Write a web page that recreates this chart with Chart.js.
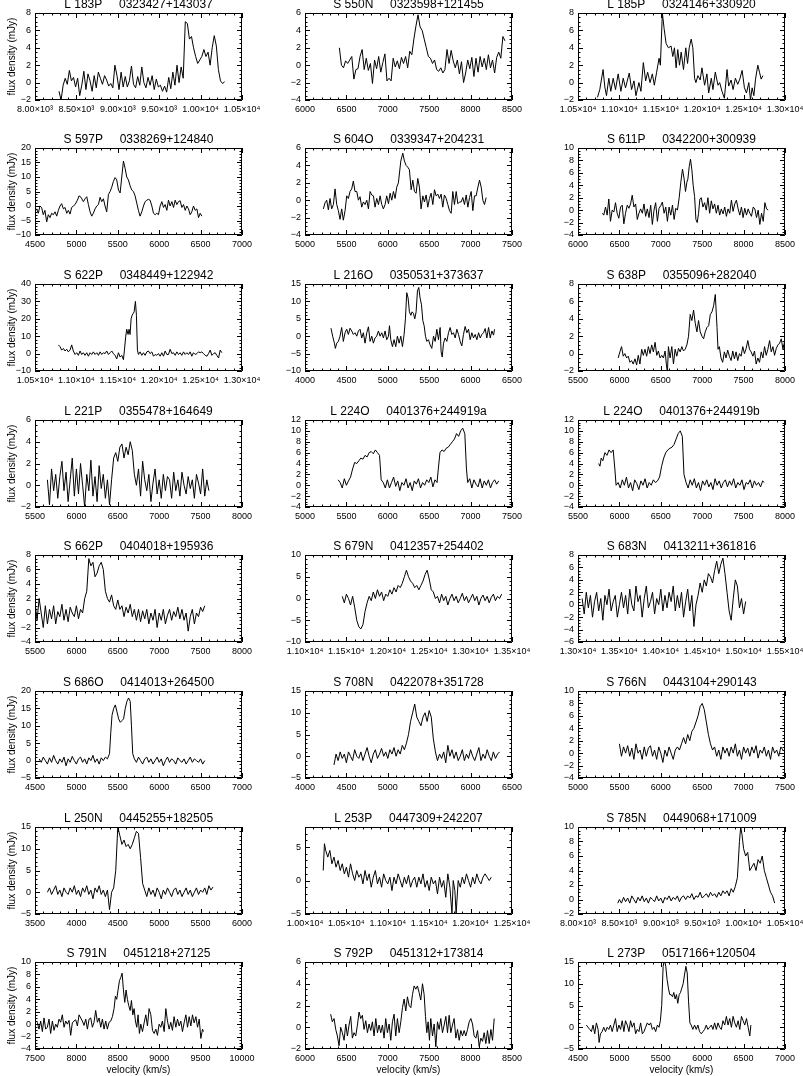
<!DOCTYPE html>
<html><head><meta charset="utf-8">
<script src="https://cdn.jsdelivr.net/npm/chart.js@4.4.1/dist/chart.umd.min.js"></script>
<style>
html,body{margin:0;padding:0;background:#fff;}
body{width:803px;height:1076px;overflow:hidden;position:relative;}
canvas{position:absolute;}
</style></head><body>
<script>
// ---------------- DATA ----------------
const titles = [
 "L 183P     0323427+143037","S 550N     0323598+121455","L 185P     0324146+330920",
 "S 597P     0338269+124840","S 604O     0339347+204231","S 611P     0342200+300939",
 "S 622P     0348449+122942","L 216O     0350531+373637","S 638P     0355096+282040",
 "L 221P     0355478+164649","L 224O     0401376+244919a","L 224O     0401376+244919b",
 "S 662P     0404018+195936","S 679N     0412357+254402","S 683N     0413211+361816",
 "S 686O     0414013+264500","S 708N     0422078+351728","S 766N     0443104+290143",
 "L 250N     0445255+182505","L 253P     0447309+242207","S 785N     0449068+171009",
 "S 791N     0451218+27125","S 792P     0451312+173814","L 273P     0517166+120504"
];
const xTicks = [
 [8000,8500,9000,9500,10000,10500],[6000,6500,7000,7500,8000,8500],[10500,11000,11500,12000,12500,13000],
 [4500,5000,5500,6000,6500,7000],[5000,5500,6000,6500,7000,7500],[6000,6500,7000,7500,8000,8500],
 [10500,11000,11500,12000,12500,13000],[4000,4500,5000,5500,6000,6500],[5500,6000,6500,7000,7500,8000],
 [5500,6000,6500,7000,7500,8000],[5000,5500,6000,6500,7000,7500],[5500,6000,6500,7000,7500,8000],
 [5500,6000,6500,7000,7500,8000],[11000,11500,12000,12500,13000,13500],[13000,13500,14000,14500,15000,15500],
 [4500,5000,5500,6000,6500,7000],[4000,4500,5000,5500,6000,6500],[5000,5500,6000,6500,7000,7500],
 [3500,4000,4500,5000,5500,6000],[10000,10500,11000,11500,12000,12500],[8000,8500,9000,9500,10000,10500],
 [7500,8000,8500,9000,9500,10000],[6000,6500,7000,7500,8000,8500],[4500,5000,5500,6000,6500,7000]
];
const sciLabels = {
 0:["8.00×10³","8.50×10³","9.00×10³","9.50×10³","1.00×10⁴","1.05×10⁴"],
 2:["1.05×10⁴","1.10×10⁴","1.15×10⁴","1.20×10⁴","1.25×10⁴","1.30×10⁴"],
 6:["1.05×10⁴","1.10×10⁴","1.15×10⁴","1.20×10⁴","1.25×10⁴","1.30×10⁴"],
 13:["1.10×10⁴","1.15×10⁴","1.20×10⁴","1.25×10⁴","1.30×10⁴","1.35×10⁴"],
 14:["1.30×10⁴","1.35×10⁴","1.40×10⁴","1.45×10⁴","1.50×10⁴","1.55×10⁴"],
 19:["1.00×10⁴","1.05×10⁴","1.10×10⁴","1.15×10⁴","1.20×10⁴","1.25×10⁴"],
 20:["8.00×10³","8.50×10³","9.00×10³","9.50×10³","1.00×10⁴","1.05×10⁴"]
};
const yTicks = [
 [-2,0,2,4,6,8],[-4,-2,0,2,4,6],[-2,0,2,4,6,8],
 [-10,-5,0,5,10,15,20],[-4,-2,0,2,4,6],[-4,-2,0,2,4,6,8,10],
 [-10,0,10,20,30,40],[-10,-5,0,5,10,15],[-2,0,2,4,6,8],
 [-2,0,2,4,6],[-4,-2,0,2,4,6,8,10,12],[-4,-2,0,2,4,6,8,10,12],
 [-4,-2,0,2,4,6,8],[-10,-5,0,5,10],[-6,-4,-2,0,2,4,6,8],
 [-5,0,5,10,15,20],[-5,0,5,10,15],[-4,-2,0,2,4,6,8,10],
 [-5,0,5,10,15],[-5,0,5],[-2,0,2,4,6,8,10],
 [-4,-2,0,2,4,6,8,10],[-2,0,2,4,6],[-5,0,5,10,15]
];
const yMax = [8,6,8,20,6,10,40,15,8,6,12,12,8,10,8,20,15,10,15,8,10,10,6,15];

const spec01 = [[8290,-1],[8315,-2],[8340,-0.3],[8365,0.5],[8390,-0.2],[8415,1.4],[8440,0.2],[8465,0.6],[8490,-0.5],[8515,0.5],[8540,-1.5],[8565,-0.3],[8590,1.3],[8615,-0.8],[8640,1.0],[8665,0.2],[8690,-1],[8715,0.8],[8740,-0.6],[8765,1.2],[8790,0.5],[8815,-0.2],[8840,0.8],[8865,0.3],[8890,-0.4],[8915,-0.1],[8940,-0.6],[8965,2.0],[8990,0.8],[9015,-0.8],[9040,1.2],[9065,-0.5],[9090,0.7],[9115,-0.5],[9140,0.2],[9165,1.9],[9190,-0.2],[9215,-0.6],[9240,0.7],[9265,-0.3],[9290,1.8],[9315,0],[9340,-0.6],[9365,0.6],[9390,-0.3],[9415,0.8],[9440,-0.8],[9465,0.4],[9490,-0.5],[9515,-0.3],[9540,-1.0],[9565,-0.4],[9590,-1.1],[9615,0.6],[9640,-0.7],[9665,1.2],[9690,-0.3],[9715,2.0],[9740,0],[9765,1.8],[9790,0.5],[9815,7.0],[9840,6.8],[9865,5.0],[9890,5.3],[9915,4.0],[9940,3.0],[9965,2.2],[9990,2.6],[10015,3.0],[10040,3.8],[10065,3.0],[10090,3.5],[10115,2.0],[10140,4.0],[10165,5.4],[10190,4.2],[10215,1.5],[10240,0.2],[10265,-0.1],[10290,0.1]];
const spec02 = [[6415,2.0],[6440,0],[6465,-0.3],[6490,0.5],[6515,0.2],[6540,0.6],[6565,1.0],[6590,-1.6],[6615,-0.5],[6640,-0.4],[6665,1.0],[6690,1.8],[6715,-0.5],[6740,0.8],[6765,-0.6],[6790,0.2],[6815,-2.1],[6840,0.6],[6865,-0.4],[6890,1.0],[6915,-0.8],[6940,0.3],[6965,1.3],[6990,-1.8],[7015,-1.5],[7040,-1.8],[7065,0.8],[7090,-0.2],[7115,0.5],[7140,-0.4],[7165,0.9],[7190,0.2],[7215,1.0],[7240,-0.3],[7265,1.6],[7290,1.2],[7315,3.0],[7340,4.5],[7365,5.8],[7390,4.4],[7415,4.0],[7440,3.0],[7465,2.0],[7490,1.0],[7515,0.8],[7540,0.2],[7565,0.6],[7590,-0.5],[7615,-0.7],[7640,-0.3],[7665,-0.9],[7690,-0.5],[7715,1.8],[7740,0.2],[7765,1.7],[7790,0.5],[7815,-0.3],[7840,0.6],[7865,-1.0],[7890,0.4],[7915,-2.0],[7940,-0.9],[7965,0.6],[7990,-0.4],[8015,0.9],[8040,-1.3],[8065,0.8],[8090,-0.8],[8115,1.0],[8140,-0.2],[8165,0.8],[8190,-0.5],[8215,1.2],[8240,-0.3],[8265,0.6],[8290,-0.9],[8315,0.9],[8340,1.5],[8365,0.8],[8390,3.3],[8415,2.8]];
const spec03 = [[10735,-1.7],[10763,-0.8],[10803,1.5],[10824,-0.5],[10844,-1.5],[10872,0.5],[10896,-1.0],[10925,0.5],[10953,-0.8],[10985,1.0],[11018,-1.0],[11046,0.5],[11074,-0.6],[11119,1.1],[11147,-0.8],[11176,0.2],[11200,-1.5],[11236,0],[11260,-1.0],[11289,2.3],[11317,0.2],[11341,1.2],[11370,0],[11398,1.0],[11422,-0.3],[11450,1.2],[11479,2.8],[11495,2.0],[11519,8.0],[11540,6.2],[11564,4.5],[11592,4.0],[11624,4.2],[11645,3.0],[11665,4.0],[11685,1.7],[11705,3.8],[11726,2.0],[11746,3.5],[11774,1.5],[11802,4.0],[11823,2.2],[11843,4.0],[11867,5.0],[11887,4.0],[11908,0.5],[11924,0],[11948,0.8],[11976,0.3],[11997,1.7],[12029,-0.3],[12057,1.0],[12078,-1.2],[12110,0.5],[12130,-0.8],[12158,1.2],[12191,-0.3],[12211,0],[12239,-1.0],[12268,-1.8],[12300,1.5],[12320,-0.4],[12349,0.3],[12373,-0.8],[12401,0.5],[12429,-0.2],[12454,0.4],[12482,1.4],[12510,-0.6],[12535,-1.2],[12563,0],[12583,-2.0],[12603,-0.6],[12624,-1.5],[12644,0.4],[12672,2.0],[12692,1.2],[12712,0.4],[12733,0.8]];
const spec04 = [[4520,-1],[4540,-2.5],[4560,0],[4580,-0.5],[4600,-3],[4620,-1.5],[4641,-5.5],[4661,-3],[4681,-4],[4701,-2.5],[4722,-3],[4742,-2],[4762,-3.5],[4782,-1.5],[4802,0],[4822,0.8],[4843,-1],[4863,-0.5],[4883,-2.5],[4903,-1.5],[4923,-2.8],[4943,-0.5],[4963,0],[4984,0.5],[5012,2],[5032,3.5],[5056,3],[5084,1.5],[5105,2.5],[5125,3.2],[5145,0.5],[5165,-2],[5185,-3.5],[5205,-2.5],[5225,-1],[5246,0],[5266,0.5],[5286,3],[5306,1.5],[5326,2.5],[5346,0],[5366,-2],[5387,4],[5407,5],[5427,6.5],[5447,8.5],[5467,9.8],[5487,9],[5508,5.5],[5528,4.5],[5548,10],[5568,15.5],[5588,13],[5608,10],[5628,9],[5648,7],[5669,5.5],[5689,5],[5709,3.5],[5729,1],[5749,-1.5],[5769,-3.5],[5790,-2],[5810,0],[5830,1.5],[5850,2],[5870,2.3],[5890,2],[5911,0],[5931,-2.5],[5951,-3],[5971,-2.5],[5991,-3],[6011,0],[6032,1.5],[6052,-0.5],[6072,0.5],[6092,-1.5],[6112,2],[6132,0],[6153,1.5],[6173,-0.5],[6193,2],[6213,0.5],[6233,1.5],[6253,1.8],[6274,-0.5],[6294,0.5],[6314,-1.5],[6334,0],[6354,-1],[6374,-3],[6394,-2],[6414,0],[6435,-1.5],[6455,-1],[6475,-4],[6495,-2.5],[6515,-3.5]];
const spec05 = [[5222,-1],[5242,-0.3],[5262,0],[5282,-1.1],[5302,0.2],[5322,-1],[5343,-0.5],[5363,1.3],[5383,-0.5],[5403,-1.2],[5423,-2.2],[5443,-1],[5463,-2.3],[5484,-1.2],[5504,0.5],[5524,0.2],[5544,1],[5564,1.3],[5584,2.2],[5604,1],[5625,1],[5645,0],[5665,0.4],[5685,-0.8],[5705,-0.2],[5725,-0.5],[5746,0],[5766,-1],[5786,1],[5806,0.6],[5826,0.5],[5846,-0.8],[5866,0.2],[5887,-0.5],[5907,0.5],[5927,-0.5],[5947,-1],[5967,-0.5],[5987,0.5],[6008,-0.4],[6028,0.8],[6048,0],[6068,1],[6088,0.2],[6108,1.5],[6128,2],[6157,4.5],[6181,5.4],[6201,4.5],[6221,4],[6241,3.8],[6261,3.5],[6282,1.2],[6302,2.3],[6322,1.0],[6342,0.8],[6362,2.5],[6382,1.5],[6402,-1.0],[6423,0.5],[6443,-0.2],[6463,0.6],[6483,-0.8],[6503,0.2],[6523,0.8],[6544,-0.5],[6564,1.2],[6584,0.5],[6604,0.7],[6624,0.2],[6644,0.7],[6664,-0.8],[6684,0.6],[6705,0.2],[6725,-0.5],[6745,-1.2],[6765,-1.5],[6785,1.0],[6805,-0.5],[6826,1.0],[6846,-0.4],[6866,-0.2],[6886,-0.2],[6906,0.3],[6926,-0.5],[6947,0.6],[6967,-0.8],[6987,0.3],[7007,1.0],[7027,-1.2],[7047,0.5],[7067,0.5],[7088,1.5],[7108,2.3],[7128,1.5],[7148,0],[7168,-0.5],[7188,0.3]];
const spec06 = [[6295,-0.5],[6311,-0.8],[6332,0.5],[6352,-0.8],[6372,1.8],[6392,-1.8],[6413,0],[6433,-0.3],[6453,1.2],[6473,-0.5],[6493,-1.3],[6514,0.5],[6534,0.8],[6554,-2.2],[6574,-0.5],[6595,0.8],[6615,0.3],[6635,1.0],[6655,2.4],[6675,0.5],[6696,1.0],[6716,-1.5],[6736,-0.5],[6756,0.2],[6777,-0.5],[6797,1.0],[6817,-1.0],[6837,0.2],[6858,-1.2],[6878,0.8],[6898,-2.3],[6918,0],[6938,1.2],[6959,-1.8],[6979,0.3],[6999,0.7],[7019,1.3],[7040,-0.5],[7060,0.5],[7080,-1.8],[7100,0.5],[7120,-0.8],[7141,0.8],[7161,-1.5],[7181,0.3],[7201,0],[7222,2.0],[7242,4.5],[7262,6.6],[7282,5.0],[7298,3.0],[7315,4.5],[7327,5.0],[7343,7.0],[7359,8.2],[7375,6.5],[7391,4.0],[7408,2.2],[7424,-1.5],[7440,-2.0],[7456,-0.5],[7472,1.8],[7489,2.0],[7509,0.5],[7529,1.2],[7549,0],[7569,2.0],[7590,-0.5],[7610,1.5],[7630,0.2],[7650,1.0],[7671,-0.5],[7691,0.8],[7711,-0.8],[7731,0.2],[7752,-0.6],[7772,0.5],[7792,-1.0],[7812,0.2],[7832,-0.5],[7853,1.6],[7873,-0.2],[7893,1.0],[7913,1.6],[7934,0.2],[7954,-0.8],[7974,0.5],[7994,-1.2],[8014,0.3],[8035,-0.8],[8055,0.2],[8075,-0.5],[8095,-1.0],[8116,0.5],[8136,0.2],[8156,-1.2],[8176,0],[8196,-2.3],[8217,-0.5],[8237,-1.8],[8257,1.2],[8277,0.2],[8297,0]];
const spec07 = [[10782,5],[10802,4],[10822,2],[10843,3],[10863,1.5],[10883,2.5],[10903,1],[10923,2],[10943,5],[10963,1.5],[10984,-0.5],[11004,0.5],[11024,-1],[11044,1.5],[11064,-0.5],[11084,0.5],[11104,-1],[11125,0.5],[11145,-1.5],[11165,0.5],[11185,-0.5],[11205,1],[11225,-0.5],[11246,0.5],[11266,-1],[11286,1],[11306,-0.5],[11326,0.5],[11346,0],[11366,1.5],[11387,-0.5],[11407,0.5],[11427,1.5],[11447,0],[11467,-1],[11487,-3],[11508,0.5],[11528,-2],[11548,-1],[11568,-3.5],[11580,2],[11596,10],[11608,14],[11624,11],[11636,14],[11648,11],[11661,20],[11673,22],[11685,23],[11697,24],[11713,30],[11725,22],[11737,2],[11749,-0.5],[11769,1],[11790,-1],[11810,0.5],[11830,-1],[11850,1],[11870,1.5],[11890,0],[11911,1],[11931,-1.5],[11951,-0.5],[11971,-1],[11991,0],[12011,-1.5],[12032,0.5],[12052,-1.5],[12072,1.5],[12092,-0.5],[12112,-0.5],[12132,2.5],[12153,0],[12173,0.5],[12193,-1],[12213,1],[12233,-0.5],[12253,0.5],[12273,-1],[12294,1],[12314,-0.5],[12334,0.5],[12354,-0.5],[12374,1],[12394,-1.5],[12414,0.5],[12434,-0.5],[12455,0],[12475,1],[12495,0.5],[12515,1],[12535,0],[12555,-1],[12576,-1.5],[12596,0],[12616,2],[12636,-1],[12656,0],[12676,0.5],[12696,-1],[12717,-2.5],[12737,2],[12757,0.5]];
const spec08 = [[4314,2.3],[4334,0],[4355,-2],[4367,-3.5],[4383,-2],[4403,-1.5],[4423,0],[4443,2.5],[4463,-1.5],[4484,1],[4504,2],[4524,0.5],[4544,2.3],[4564,1.5],[4584,0.5],[4604,1],[4625,0],[4645,1.5],[4665,2],[4685,-0.5],[4705,1],[4725,-2],[4746,1],[4766,2.7],[4786,-1.5],[4806,0],[4826,-2],[4846,-0.5],[4866,0],[4887,1.5],[4907,0],[4927,1],[4947,-0.5],[4967,1.5],[4987,-1],[5008,0],[5020,3],[5036,-1],[5056,-3],[5076,-1],[5096,-3],[5116,0],[5137,-2],[5157,0],[5177,-3],[5197,0.5],[5213,5],[5229,12.5],[5245,11],[5261,7],[5278,6],[5294,7],[5310,6.5],[5326,5],[5342,7],[5358,13],[5374,14],[5390,11],[5407,9],[5423,4.5],[5439,3],[5455,0],[5471,-1.5],[5491,-1],[5511,-2.5],[5531,-3.5],[5552,0],[5572,-1.5],[5592,2],[5612,-1],[5632,2.5],[5644,-4.5],[5657,-6],[5673,-2],[5693,-0.5],[5713,-1.5],[5733,1],[5753,2.5],[5773,0.5],[5793,1],[5814,-0.5],[5834,2],[5854,0.5],[5874,-1.5],[5894,-2.8],[5914,0.5],[5934,2.8],[5955,1],[5975,2],[5995,-1],[6015,1],[6035,-0.5],[6055,0.5],[6076,-1],[6096,1],[6116,-0.5],[6136,0.5],[6156,1],[6176,2.2],[6196,-0.5],[6217,2.5],[6237,-0.5],[6257,1.5],[6277,0.3],[6289,2]];
const spec09 = [[5985,-0.5],[6006,0.2],[6026,0.8],[6046,-0.3],[6066,0],[6087,-0.5],[6107,-0.3],[6127,-1],[6147,-0.8],[6167,-1.2],[6188,-0.6],[6208,-1.3],[6228,-0.2],[6248,-1.2],[6269,0.5],[6289,-0.2],[6309,0.5],[6329,-0.3],[6350,0.8],[6370,0],[6390,1],[6410,0.2],[6431,1.3],[6451,-0.2],[6471,0.3],[6491,-0.5],[6511,-0.2],[6532,-0.5],[6552,0.3],[6568,-1.3],[6580,-2.2],[6592,0.8],[6612,-0.5],[6633,0.8],[6653,-1.2],[6673,0.5],[6693,-0.3],[6714,0.6],[6734,0.2],[6754,0.8],[6774,0.3],[6794,0.5],[6815,1],[6835,2],[6855,4.5],[6875,3.8],[6896,5],[6916,3.5],[6936,2.5],[6956,3.8],[6976,2.5],[6997,2],[7017,1.7],[7037,2.5],[7057,3],[7078,3.2],[7098,4.5],[7118,4.8],[7138,5.5],[7158,6.8],[7179,3],[7191,0.5],[7207,0.8],[7227,-0.5],[7247,-1],[7268,0.2],[7288,-0.5],[7308,0.4],[7328,-0.3],[7349,-0.8],[7369,0.3],[7389,-0.6],[7409,0.2],[7429,-0.8],[7450,0],[7470,-0.3],[7490,0.8],[7510,0],[7531,0.6],[7551,1.5],[7571,0.5],[7591,0.2],[7612,-0.3],[7632,0.3],[7652,-1.2],[7672,-0.5],[7692,-1],[7713,0.2],[7733,-0.5],[7753,0.8],[7773,-0.2],[7793,0.5],[7814,1.5],[7834,0.2],[7854,0.8],[7874,-0.2],[7895,0.6],[7915,1],[7935,1.2],[7955,1.7],[7975,0.5],[8000,1.6]];
const spec10 = [[5650,0.5],[5675,-1.8],[5700,1.5],[5725,-0.5],[5750,1],[5775,-1.2],[5800,0.8],[5825,2.2],[5850,-0.5],[5875,1.2],[5900,-1.5],[5925,0.5],[5950,2.5],[5975,-1],[6000,1.5],[6025,-0.8],[6050,2],[6075,0],[6100,-2],[6125,1],[6150,-0.5],[6175,2.3],[6200,-1],[6225,0.8],[6250,-1.5],[6275,1.8],[6300,-0.3],[6325,1],[6350,-1.2],[6375,0.5],[6400,-1.8],[6425,0.5],[6450,2.5],[6475,3],[6500,2.2],[6525,3.5],[6550,3.8],[6575,2.5],[6600,3.5],[6625,2.8],[6650,4],[6675,3.2],[6700,1],[6725,0],[6750,1.5],[6775,-1],[6800,2.2],[6825,0.5],[6850,-0.5],[6875,1],[6900,-1.5],[6925,0.2],[6950,1.5],[6975,-0.8],[7000,0.5],[7025,-1.2],[7050,1],[7075,-0.5],[7100,0.8],[7125,0.5],[7150,-1.2],[7175,1.2],[7200,-0.5],[7225,0.5],[7250,-1],[7275,1.2],[7300,0],[7325,-0.8],[7350,0.8],[7375,-0.3],[7400,0.5],[7425,-1.2],[7450,1],[7475,0.2],[7500,-0.8],[7525,1.5],[7550,-1],[7575,0.5],[7600,-0.5]];
const spec11 = [[5400,1],[5425,0.5],[5450,-0.5],[5475,1.2],[5500,0],[5525,0.8],[5550,1.5],[5575,3],[5600,4.2],[5625,4],[5650,4.5],[5675,5],[5700,4.8],[5725,5.5],[5750,5.2],[5775,6],[5800,6.2],[5825,5.8],[5850,6.5],[5875,6],[5900,5.5],[5920,1],[5945,0.5],[5970,-0.5],[5995,1],[6020,-0.5],[6045,0.5],[6070,1.5],[6095,-0.2],[6120,0.8],[6145,-1],[6170,0.5],[6195,0],[6220,1.2],[6245,-0.5],[6270,0.5],[6295,-1],[6320,0.8],[6345,0.2],[6370,1.2],[6395,-0.5],[6420,0.5],[6445,0],[6470,1],[6495,0.5],[6520,1.5],[6545,-0.3],[6570,1],[6595,0.5],[6610,3],[6630,6],[6655,6.5],[6680,6.2],[6705,6.8],[6730,7],[6755,7.5],[6780,8],[6805,8.5],[6830,9.5],[6855,9],[6880,10],[6905,10.5],[6930,9.5],[6950,3],[6965,0.5],[6990,1.2],[7015,-0.5],[7040,1],[7065,0.2],[7090,-0.3],[7115,1.2],[7140,-0.5],[7165,0.8],[7190,0],[7215,1],[7240,-0.5],[7265,0.5],[7290,1],[7315,0.2],[7340,0.8]];
const spec12 = [[5750,4],[5765,3.5],[5780,5],[5800,4.5],[5825,6],[5850,5.5],[5875,6.5],[5900,6],[5925,6.5],[5945,3],[5960,0],[5985,0.5],[6010,-0.5],[6035,1],[6060,0],[6085,1.5],[6110,-0.5],[6135,0.5],[6160,-1],[6185,1],[6210,0.3],[6235,-0.8],[6260,0.8],[6285,0],[6310,1.2],[6335,-0.5],[6360,0.5],[6385,0],[6410,1],[6435,0.5],[6460,0.8],[6485,1.5],[6510,3.5],[6535,5],[6560,6],[6585,6.5],[6610,6.8],[6635,7],[6660,7.5],[6685,8.5],[6710,9.5],[6735,10],[6760,9],[6780,2],[6805,0.5],[6830,-0.5],[6855,1],[6880,0],[6905,1.2],[6930,-0.5],[6955,0.5],[6980,-1],[7005,0.8],[7030,0],[7055,1],[7080,-0.3],[7105,0.5],[7130,-0.8],[7155,1.2],[7180,0],[7205,0.8],[7230,-0.5],[7255,0.5],[7280,1],[7305,-0.3],[7330,0.8],[7355,0],[7380,1.2],[7405,-0.5],[7430,0.5],[7455,0],[7480,1],[7505,-0.8],[7530,0.5],[7555,0.2],[7580,1],[7605,-0.5],[7630,0.8],[7655,0],[7680,0.5],[7705,-0.3],[7730,0.8],[7750,0.5]];
const spec13 = [[5500,1.5],[5525,-1],[5550,2],[5575,0],[5600,-2],[5625,1],[5650,-1.5],[5675,0.5],[5700,-0.8],[5725,1],[5750,-1.5],[5775,0.2],[5800,-0.5],[5825,1.2],[5850,-1],[5875,0.5],[5900,-1.2],[5925,0.8],[5950,0],[5975,-0.5],[6000,1],[6025,-0.8],[6050,0.5],[6075,0],[6100,2],[6125,3],[6150,7.5],[6175,6.5],[6200,7],[6225,5],[6250,5.5],[6275,6.5],[6300,7],[6325,6],[6350,3],[6375,2],[6400,1.5],[6425,2.5],[6450,1],[6475,0.5],[6500,1.8],[6525,0.5],[6550,1],[6575,-0.5],[6600,0.8],[6625,0],[6650,1.2],[6675,-0.5],[6700,0.5],[6725,-1],[6750,0.5],[6775,-1.2],[6800,0.3],[6825,-0.8],[6850,0.5],[6875,-1.5],[6900,0],[6925,-1],[6950,0.5],[6975,-2],[7000,0],[7025,-1],[7050,0.5],[7075,-1.5],[7100,-0.3],[7125,0.5],[7150,-1],[7175,0.2],[7200,-0.5],[7225,0.8],[7250,-0.8],[7275,0.5],[7300,-1],[7325,0],[7350,-2.5],[7375,-0.5],[7400,0.5],[7425,-1.5],[7450,0],[7475,-0.5],[7500,0.8],[7525,0.2],[7550,1]];
const spec14 = [[11450,0.5],[11475,-1],[11500,1],[11525,0],[11550,-1.5],[11575,0.5],[11600,-2],[11625,-5],[11650,-6.5],[11675,-7],[11700,-6],[11725,-3],[11750,-1],[11775,0.5],[11800,-0.5],[11825,1.5],[11850,0],[11875,2],[11900,0.5],[11925,1.5],[11950,-0.5],[11975,1],[12000,0.5],[12025,2],[12050,1],[12075,2.5],[12100,1.5],[12125,3],[12150,2.5],[12175,3.5],[12200,5],[12225,6.5],[12250,5],[12275,4],[12300,3.5],[12325,2.5],[12350,3],[12375,2],[12400,3],[12425,4],[12450,5.5],[12475,6.5],[12500,4.5],[12525,2],[12550,1.5],[12575,0],[12600,0.5],[12625,-1],[12650,1],[12675,-0.5],[12700,0.5],[12725,-1.5],[12750,0],[12775,1],[12800,-0.5],[12825,0.5],[12850,-1],[12875,0],[12900,1.2],[12925,-0.5],[12950,0.5],[12975,-1],[13000,0],[13025,1],[13050,-0.5],[13075,0.5],[13100,-1.5],[13125,0],[13150,0.8],[13175,-0.5],[13200,0.5],[13225,-1],[13250,0.3],[13275,1],[13300,-0.5],[13325,0.5],[13350,0],[13375,1]];
const spec15 = [[13050,1],[13075,-1.5],[13100,2],[13125,-0.5],[13150,1.5],[13175,-2],[13200,0.5],[13225,2],[13250,-1],[13275,1],[13300,-2.5],[13325,1.5],[13350,0],[13375,2.5],[13400,-1],[13425,0.5],[13450,1.5],[13475,-2],[13500,0],[13525,2],[13550,-0.5],[13575,1.5],[13600,-1.5],[13625,2.5],[13650,0],[13675,-1],[13700,3],[13725,0.5],[13750,1.5],[13775,-2],[13800,1],[13825,3],[13850,-0.5],[13875,0.5],[13900,2],[13925,-1.5],[13950,1],[13975,0],[14000,2.5],[14025,-1],[14050,1.5],[14075,-0.5],[14100,2],[14125,0.5],[14150,3],[14175,-1],[14200,1.5],[14225,-0.5],[14250,2],[14275,-2],[14300,0.5],[14325,2.5],[14350,-1],[14375,1.5],[14400,-3.5],[14425,0],[14450,1.5],[14475,3.5],[14500,2],[14525,4],[14550,3],[14575,5],[14600,4.5],[14625,3.5],[14650,5.5],[14675,7],[14700,5],[14725,6.5],[14750,7.5],[14775,5],[14800,2],[14825,-1],[14850,-2.5],[14875,1],[14900,4],[14925,3],[14950,-0.5],[14975,1],[15000,-1.5],[15025,0.5]];
const spec16 = [[4550,0.5],[4575,-0.5],[4600,1],[4625,0],[4650,-1],[4675,0.8],[4700,-0.5],[4725,1.5],[4750,0],[4775,-1],[4800,0.5],[4825,-0.5],[4850,1],[4875,-1.5],[4900,0.5],[4925,-0.5],[4950,1.2],[4975,0],[5000,-1],[5025,0.5],[5050,1],[5075,-0.5],[5100,0.5],[5125,-1],[5150,0.8],[5175,0],[5200,1.5],[5225,-0.5],[5250,0.5],[5275,-1],[5300,0.8],[5325,0],[5350,1],[5375,0.5],[5400,2],[5415,8],[5430,13],[5450,15],[5470,16],[5490,14],[5510,12],[5530,11],[5550,11.5],[5570,12],[5590,15],[5610,17],[5630,18],[5650,17],[5665,10],[5680,2],[5700,0.5],[5725,-0.5],[5750,1],[5775,0],[5800,-1],[5825,0.5],[5850,1],[5875,-0.5],[5900,0.5],[5925,-1],[5950,0],[5975,1],[6000,-0.5],[6025,0.5],[6050,-1.5],[6075,0],[6100,1],[6125,-0.5],[6150,0.5],[6175,0],[6200,-1],[6225,0.8],[6250,0],[6275,-0.5],[6300,0.5],[6325,-1],[6350,0],[6375,1],[6400,-0.5],[6425,0.5],[6450,0],[6475,-0.5],[6500,0.5],[6525,-1],[6550,0]];
const spec17 = [[4350,-2],[4375,0.5],[4400,-1],[4425,1],[4450,-0.5],[4475,0.5],[4500,-1.5],[4525,1],[4550,0],[4575,-1],[4600,1.5],[4625,0],[4650,-0.5],[4675,1],[4700,-1],[4725,0.5],[4750,2],[4775,0],[4800,-1.5],[4825,0.5],[4850,1.5],[4875,-0.5],[4900,0.5],[4925,1.8],[4950,0],[4975,1],[5000,-0.5],[5025,1.5],[5050,0.5],[5075,2],[5100,0],[5125,1.5],[5150,0.5],[5175,2.5],[5200,1.5],[5225,3],[5250,5],[5275,8],[5300,10],[5325,12],[5350,9],[5375,8],[5400,7],[5425,9],[5450,10],[5475,8],[5500,10.5],[5525,9],[5550,4],[5575,1],[5600,-1],[5625,0.5],[5650,-0.5],[5675,1],[5700,-1.5],[5725,2.5],[5750,0],[5775,1.5],[5800,-0.5],[5825,1],[5850,-1],[5875,0],[5900,1.5],[5925,-1],[5950,0.5],[5975,-0.5],[6000,1.5],[6025,0],[6050,-1],[6075,0.5],[6100,2],[6125,-1],[6150,0.5],[6175,-0.5],[6200,1.5],[6225,0],[6250,-1],[6275,1],[6300,-0.5],[6325,0.5],[6350,1]];
const spec18 = [[5500,1.5],[5525,-0.5],[5550,1],[5575,0],[5600,1.2],[5625,-0.5],[5650,0.8],[5675,-1],[5700,1.5],[5725,0],[5750,0.5],[5775,-1],[5800,1],[5825,-0.5],[5850,0.8],[5875,1.2],[5900,-0.5],[5925,0.5],[5950,-1],[5975,1],[6000,0],[6025,-1.5],[6050,0.5],[6075,-0.5],[6100,1],[6125,0],[6150,-1],[6175,0.5],[6200,1],[6225,0.5],[6250,1.5],[6275,2.5],[6300,1.5],[6325,3],[6350,2],[6375,3.5],[6400,4],[6425,5],[6450,6],[6475,7.5],[6500,8],[6525,7],[6550,5],[6575,3],[6600,1.5],[6625,0.5],[6650,1],[6675,-0.5],[6700,0.5],[6725,-1],[6750,1],[6775,0],[6800,0.8],[6825,-0.5],[6850,1],[6875,0],[6900,1.5],[6925,-0.5],[6950,0.5],[6975,-1],[7000,1],[7025,0],[7050,0.8],[7075,-0.5],[7100,1],[7125,0],[7150,1.2],[7175,-0.8],[7200,0.5],[7225,0],[7250,1],[7275,-0.5],[7300,0.5],[7325,-1],[7350,1],[7375,0],[7400,0.5],[7425,-0.5],[7450,1],[7475,0.5],[7500,0.2]];
const spec19 = [[3650,0],[3675,1],[3700,-0.5],[3725,0.5],[3750,1.5],[3775,-0.5],[3800,0.5],[3825,-1],[3850,1],[3875,0],[3900,-0.5],[3925,1],[3950,0],[3975,1.5],[4000,-0.5],[4025,0.5],[4050,-1],[4075,1],[4100,0],[4125,1.5],[4150,-0.5],[4175,0.5],[4200,-1.5],[4225,1],[4250,0],[4275,1.5],[4300,-0.5],[4325,0.5],[4350,-1],[4375,0.5],[4400,-4],[4425,0],[4450,1],[4475,5],[4500,15],[4525,13],[4550,11],[4575,12],[4600,10.5],[4625,11],[4650,10],[4675,11],[4700,12.5],[4725,14],[4750,13.5],[4775,8],[4800,2],[4825,0.5],[4850,-1],[4875,1],[4900,-0.5],[4925,0.5],[4950,-1],[4975,1],[5000,0],[5025,-1.5],[5050,0.5],[5075,-0.5],[5100,1],[5125,0],[5150,-1],[5175,0.5],[5200,1],[5225,-0.5],[5250,0.5],[5275,-1],[5300,0],[5325,1],[5350,-0.5],[5375,0.5],[5400,-1],[5425,0],[5450,1],[5475,-0.5],[5500,0.5],[5525,0],[5550,1],[5575,-0.5],[5600,1.5],[5625,0.5],[5650,1.2]];
const spec20 = [[10220,1.5],[10235,5.5],[10250,4.5],[10275,3.5],[10300,4.5],[10325,2.5],[10350,3.5],[10375,2],[10400,3],[10425,1.5],[10450,2.5],[10475,1],[10500,2],[10525,0.5],[10550,2.5],[10575,1],[10600,0],[10625,1.5],[10650,0.5],[10675,1],[10700,-0.5],[10725,1.5],[10750,0],[10775,1],[10800,-1],[10825,0.5],[10850,1.5],[10875,-0.5],[10900,0.5],[10925,-1],[10950,1],[10975,0],[11000,-0.5],[11025,0.5],[11050,-1.5],[11075,0.5],[11100,-0.5],[11125,1],[11150,0],[11175,-1],[11200,0.5],[11225,-0.5],[11250,0.8],[11275,-1],[11300,0],[11325,0.5],[11350,-1],[11375,0.5],[11400,-0.5],[11425,1],[11450,-1],[11475,0],[11500,-1.5],[11525,0.5],[11550,-0.5],[11575,0],[11600,-2],[11625,0.5],[11650,-1],[11675,0],[11700,-2.5],[11725,1],[11750,-1],[11775,-5],[11790,0],[11810,-1.5],[11825,-5],[11850,0],[11875,-1],[11900,0.5],[11925,-0.5],[11950,1],[11975,0],[12000,-1],[12025,0.5],[12050,-0.5],[12075,1],[12100,0],[12125,-0.5],[12150,0.5],[12175,1],[12200,0.5],[12225,0],[12250,0.5]];
const spec21 = [[8480,-0.5],[8500,0],[8525,-0.5],[8550,0.3],[8575,-0.3],[8600,0.2],[8625,-0.5],[8650,0.5],[8675,0],[8700,-0.5],[8725,0.3],[8750,-0.2],[8775,0.5],[8800,-0.3],[8825,0.2],[8850,-0.5],[8875,0.3],[8900,0],[8925,-0.3],[8950,0.5],[8975,-0.2],[9000,0.2],[9025,-0.5],[9050,0.3],[9075,0],[9100,0.5],[9125,-0.2],[9150,0.3],[9175,0],[9200,0.5],[9225,-0.3],[9250,0.3],[9275,0.5],[9300,0],[9325,0.5],[9350,0.2],[9375,0.8],[9400,0],[9425,0.5],[9450,0.3],[9475,1],[9500,0.2],[9525,0.5],[9550,0.8],[9575,0.3],[9600,1],[9625,0.5],[9650,0.8],[9675,0.3],[9700,1],[9725,0.5],[9750,1.2],[9775,0.8],[9800,1.2],[9825,0.5],[9850,1.5],[9875,1],[9900,1.8],[9925,3],[9950,8],[9965,10],[9980,9],[10000,7],[10025,6],[10050,6.5],[10075,4],[10100,4.5],[10125,5],[10150,4],[10175,5.5],[10200,5],[10225,6],[10250,4],[10275,3],[10300,2],[10325,1],[10350,0.5],[10375,-0.5]];
const spec22 = [[7528,0.3],[7548,-0.8],[7569,0.5],[7589,-1.2],[7609,1],[7629,-0.8],[7649,-0.5],[7669,0.8],[7689,-1.5],[7710,0.5],[7730,-1],[7750,0],[7770,-0.5],[7790,0.8],[7810,0.3],[7830,1.5],[7851,-0.5],[7871,0.5],[7891,0],[7911,0.6],[7931,-1.8],[7951,0.2],[7971,0.5],[7992,0.7],[8012,-0.3],[8032,1.5],[8052,1],[8072,0.5],[8092,-0.2],[8113,0.8],[8133,-0.8],[8153,0.8],[8173,1],[8193,-0.5],[8213,0.3],[8233,2.2],[8254,0.3],[8274,1],[8294,-0.5],[8314,0.8],[8334,-0.8],[8354,0.5],[8374,-0.8],[8395,0.3],[8415,0.5],[8435,1.2],[8455,2.5],[8471,4.5],[8487,4],[8503,5.5],[8520,7],[8536,7.5],[8552,8.2],[8568,5.5],[8584,3.5],[8600,5.5],[8616,4],[8632,3],[8649,2.2],[8665,3.8],[8681,1.5],[8697,2.5],[8713,0.5],[8729,-0.5],[8745,1.5],[8761,-1.5],[8778,0],[8798,-1.2],[8818,0.2],[8838,1.5],[8858,-0.3],[8878,2.5],[8899,1.5],[8919,-1],[8939,-1.5],[8959,-0.8],[8979,-1.8],[8999,0],[9019,-0.5],[9039,0.5],[9060,-1.2],[9080,2.5],[9100,0.5],[9120,-0.8],[9140,0.3],[9160,-1],[9180,1.2],[9201,-0.5],[9221,0.8],[9241,-0.3],[9261,0.5],[9281,-1.2],[9301,0.2],[9322,1.5],[9342,-0.5],[9362,1.2],[9382,-0.3],[9402,1.5],[9422,0.2],[9443,1.2],[9463,-0.5],[9483,0.8],[9503,-2.3],[9523,-0.8],[9535,-1.2]];
const spec23 = [[6310,1.2],[6330,0.5],[6351,0.8],[6371,-0.2],[6391,-0.8],[6411,-1.7],[6431,0],[6451,-0.5],[6472,-1.2],[6492,0.3],[6512,-0.8],[6532,0.2],[6552,1],[6572,-1],[6592,-0.5],[6613,-0.8],[6633,0.2],[6653,1.4],[6673,0.8],[6693,1.1],[6713,-0.2],[6734,0.6],[6754,-0.5],[6774,0.3],[6794,-0.3],[6814,0.5],[6834,-0.8],[6855,0.8],[6875,-0.5],[6895,0.2],[6915,-0.5],[6935,0.2],[6955,-1],[6975,0.8],[6995,-0.5],[7016,0.3],[7036,-1.2],[7056,0.5],[7076,1.2],[7096,-0.8],[7116,0.8],[7137,-0.5],[7157,0.5],[7177,1.8],[7197,2.6],[7217,1.5],[7237,2.8],[7258,2],[7278,1.8],[7298,3],[7318,3.8],[7338,3.5],[7358,3.8],[7378,3.2],[7398,2.5],[7419,4],[7439,3],[7455,1],[7471,-0.5],[7487,0.5],[7503,-1.2],[7519,0.8],[7540,-0.8],[7560,0.3],[7580,-1.8],[7600,0.5],[7620,-0.2],[7640,0.8],[7660,-0.5],[7681,0.2],[7701,1],[7721,-0.5],[7741,1.1],[7761,-0.5],[7781,0.2],[7801,0.8],[7822,-1],[7842,-0.2],[7862,-1.2],[7882,-0.3],[7902,-0.8],[7922,-0.3],[7942,-0.8],[7963,-0.2],[7983,0.5],[8003,0.8],[8023,0.3],[8043,-0.8],[8064,-1],[8084,-0.3],[8104,-1.8],[8124,-1],[8144,-1.3],[8164,-0.5],[8184,-1.5],[8204,-0.3],[8225,-1.5],[8245,-0.2],[8265,-1.2],[8285,0.8]];
const spec24 = [[4601,0.5],[4621,0],[4642,-0.5],[4662,-1],[4682,0.5],[4702,-1.5],[4722,1],[4743,-0.5],[4755,-3.5],[4771,-1.5],[4791,-1],[4811,0],[4832,-1],[4852,0],[4872,-0.5],[4892,0.5],[4913,-1],[4933,0.5],[4953,2],[4973,-1],[4994,0.5],[5014,-0.5],[5034,1.5],[5054,-1],[5074,1.5],[5095,0.5],[5115,-1],[5135,1.5],[5155,0],[5176,1],[5196,-1.5],[5216,-0.5],[5236,-1],[5256,1],[5277,-1.5],[5297,-1],[5317,0],[5337,1],[5358,0.5],[5378,1],[5398,-0.5],[5418,0],[5438,-1],[5459,0.5],[5479,0],[5495,1.5],[5511,5],[5528,14],[5544,15.5],[5560,14],[5576,11],[5592,9],[5608,7.5],[5625,7.5],[5641,7],[5657,8],[5673,6.5],[5689,7.5],[5705,5.5],[5722,7.5],[5738,8],[5754,9],[5770,10],[5786,12],[5803,14],[5819,12.5],[5835,6],[5851,1],[5867,0.5],[5887,-0.5],[5908,0.5],[5928,-0.5],[5948,0.5],[5968,-1],[5989,-1.5],[6009,-1],[6029,-0.5],[6049,0.5],[6069,-0.5],[6090,0],[6110,0.5],[6130,-0.5],[6150,1],[6171,-0.5],[6191,1],[6211,0],[6231,-0.5],[6251,1.5],[6272,0.5],[6292,2.5],[6312,0.5],[6332,2],[6353,0],[6373,2.5],[6393,1],[6413,0],[6434,1.5],[6454,-0.5],[6474,2.5],[6494,1.5],[6514,0.5],[6535,2],[6555,0],[6575,-2],[6588,0.5]];

const spectra = [spec01,spec02,spec03,spec04,spec05,spec06,spec07,spec08,spec09,spec10,spec11,spec12,
                 spec13,spec14,spec15,spec16,spec17,spec18,spec19,spec20,spec21,spec22,spec23,spec24];

// ---------------- LAYOUT / STYLE ----------------
const FONT = "'Liberation Sans', Arial, Helvetica, sans-serif";
const colLeft = [35, 305, 578];
const rowTop = [13, 148, 284, 420, 555, 691, 827, 962];
const PW = 207, PH = 87, YW = 35, TH = 15, RP = 25;

function fmtY(v){ return v < 0 ? '\u2212' + Math.abs(v) : String(v); }

const framePlugin = {
  id: 'frame',
  afterDatasetsDraw(chart){
    const {ctx, chartArea: a, scales: {x, y}} = chart;
    const L = a.left, R = a.right, T = a.top, B = a.bottom;
    ctx.save();
    ctx.strokeStyle = '#000'; ctx.lineWidth = 1;
    ctx.beginPath();
    ctx.rect(L + 0.5, T + 0.5, R - L - 1, B - T - 1);
    const xt = x.ticks.map(t => t.value);
    const xs = xt[1] - xt[0], xn = 5;
    for (let v = x.min; v <= x.max + 1e-6; v += xs / xn) {
      const major = xt.some(t => Math.abs(t - v) < 1e-6);
      const len = major ? 5 : 2.5;
      const px = Math.round(x.getPixelForValue(v)) + 0.5;
      ctx.moveTo(px, B); ctx.lineTo(px, B - len);
      ctx.moveTo(px, T); ctx.lineTo(px, T + len);
    }
    const yt = y.ticks.map(t => t.value);
    const ys = yt[1] - yt[0], yn = ys === 2 ? 4 : 5;
    for (let v = y.min; v <= y.max + 1e-6; v += ys / yn) {
      const major = yt.some(t => Math.abs(t - v) < 1e-6);
      const len = major ? 5 : 2.5;
      const py = Math.round(y.getPixelForValue(v)) + 0.5;
      ctx.moveTo(L, py); ctx.lineTo(L + len, py);
      ctx.moveTo(R, py); ctx.lineTo(R - len, py);
    }
    ctx.stroke();
    ctx.restore();
  }
};

function makePanel(i){
  const r = Math.floor(i / 3), c = i % 3;
  const lastRow = r === 7;
  const XB = lastRow ? 34 : 20;
  const W = YW + PW + RP, H = TH + PH + XB;
  const cv = document.createElement('canvas');
  cv.width = W; cv.height = H;
  cv.style.left = (colLeft[c] - YW) + 'px';
  cv.style.top = (rowTop[r] - TH) + 'px';
  cv.style.width = W + 'px'; cv.style.height = H + 'px';
  document.body.appendChild(cv);
  const xt = xTicks[i], yt = yTicks[i];
  const labels = sciLabels[i];
  new Chart(cv.getContext('2d'), {
    type: 'line',
    data: { datasets: [{
      data: spectra[i].map(p => ({x: p[0], y: p[1]})),
      borderColor: '#000', borderWidth: 1, pointRadius: 0, tension: 0, fill: false
    }]},
    options: {
      animation: false, responsive: false, devicePixelRatio: 1,
      layout: { padding: { left: 0, right: RP, top: 0, bottom: 0 } },
      plugins: {
        legend: { display: false }, tooltip: { enabled: false },
        title: { display: true, text: titles[i], fullSize: false, align: 'center', color: '#000',
          font: { family: FONT, size: 12, weight: 'normal', lineHeight: '14px' },
          padding: { top: 0, bottom: 1 } }
      },
      scales: {
        x: {
          type: 'linear', min: xt[0], max: xt[xt.length - 1],
          afterBuildTicks: s => { s.ticks = xt.map(v => ({value: v})); },
          afterFit: s => { s.height = XB; },
          grid: { display: false, drawTicks: false }, border: { display: false },
          ticks: { autoSkip: false, maxRotation: 0, minRotation: 0, padding: 4, color: '#000',
            font: { family: FONT, size: 9 },
            callback: (v, idx) => labels ? labels[idx] : String(v) },
          title: { display: lastRow, text: 'velocity (km/s)', color: '#000',
            font: { family: FONT, size: 10 }, padding: { top: 0, bottom: 7 } }
        },
        y: {
          type: 'linear', min: yt[0], max: yMax[i],
          afterBuildTicks: s => { s.ticks = yt.map(v => ({value: v})); },
          afterFit: s => { s.width = YW; },
          grid: { display: false, drawTicks: false }, border: { display: false },
          ticks: { autoSkip: false, padding: 4, color: '#000',
            font: { family: FONT, size: 9 }, callback: v => fmtY(v) },
          title: { display: c === 0, text: 'flux density (mJy)', color: '#000',
            font: { family: FONT, size: 10 }, padding: { top: 6, bottom: 0 } }
        }
      }
    },
    plugins: [framePlugin]
  });
}
for (let i = 0; i < 24; i++) makePanel(i);
</script>
</body></html>
